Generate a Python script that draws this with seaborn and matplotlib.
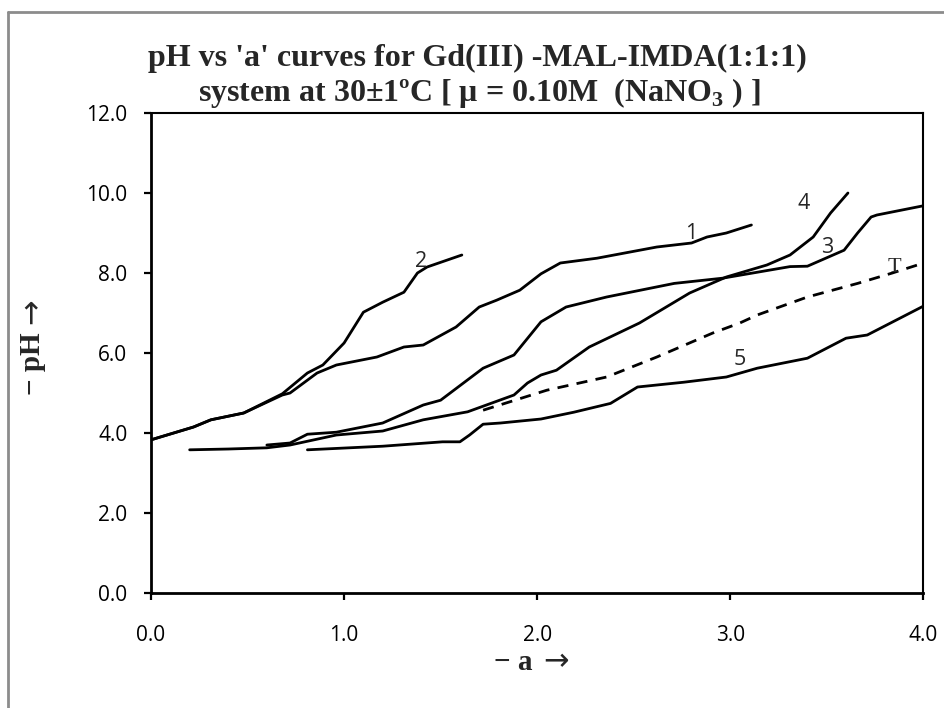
import matplotlib
matplotlib.use("Agg")
import matplotlib.pyplot as plt
from matplotlib.lines import Line2D
import numpy as np
import pandas as pd
import seaborn as sns

# ---- data (a, pH) ----
a_1 = [0.00, 0.22, 0.31, 0.48, 0.68, 0.72, 0.86, 0.96, 1.17, 1.31, 1.41, 1.58, 1.70,
       1.79, 1.91, 2.02, 2.12, 2.31, 2.62, 2.80, 2.88, 2.98, 3.11]
ph_1 = [3.83, 4.15, 4.33, 4.50, 4.95, 5.00, 5.50, 5.70, 5.90, 6.15, 6.20, 6.65, 7.15,
        7.32, 7.57, 7.98, 8.25, 8.37, 8.65, 8.75, 8.90, 9.00, 9.20]

a_2 = [0.00, 0.22, 0.31, 0.48, 0.68, 0.81, 0.89, 1.00, 1.10, 1.20, 1.31, 1.38, 1.43, 1.61]
ph_2 = [3.83, 4.15, 4.33, 4.50, 4.98, 5.50, 5.70, 6.25, 7.02, 7.27, 7.52, 8.00, 8.15, 8.45]

a_3 = [0.60, 0.72, 0.81, 0.96, 1.20, 1.41, 1.50, 1.72, 1.88, 2.02, 2.15, 2.36, 2.71,
       2.96, 3.31, 3.40, 3.59, 3.66, 3.73, 3.76, 4.00]
ph_3 = [3.70, 3.75, 3.97, 4.02, 4.25, 4.70, 4.82, 5.62, 5.95, 6.78, 7.15, 7.40, 7.74,
        7.87, 8.16, 8.17, 8.57, 9.00, 9.40, 9.45, 9.68]

a_4 = [0.20, 0.40, 0.60, 0.72, 0.96, 1.20, 1.41, 1.64, 1.88, 1.95, 2.02, 2.10, 2.27,
       2.53, 2.79, 2.98, 3.19, 3.31, 3.43, 3.52, 3.61]
ph_4 = [3.58, 3.60, 3.63, 3.70, 3.95, 4.05, 4.33, 4.53, 4.95, 5.25, 5.45, 5.57, 6.15,
        6.75, 7.50, 7.90, 8.20, 8.45, 8.90, 9.50, 10.00]

a_5 = [0.81, 1.20, 1.51, 1.60, 1.65, 1.72, 1.81, 2.02, 2.19, 2.38, 2.52, 2.76, 2.98,
       3.14, 3.40, 3.60, 3.71, 4.00]
ph_5 = [3.58, 3.67, 3.78, 3.78, 3.95, 4.22, 4.25, 4.35, 4.52, 4.74, 5.15, 5.27, 5.40,
        5.62, 5.87, 6.37, 6.45, 7.17]

a_t = [1.72, 2.05, 2.36, 2.62, 2.91, 3.05, 3.14, 3.40, 3.66, 3.84, 3.97]
ph_t = [4.57, 5.07, 5.40, 5.90, 6.50, 6.75, 6.95, 7.40, 7.74, 8.00, 8.20]

curve_names = ["1", "2", "3", "4", "5", "T"]
curve_a = [a_1, a_2, a_3, a_4, a_5, a_t]
curve_ph = [ph_1, ph_2, ph_3, ph_4, ph_5, ph_t]

# label positions beside the curves
label_text = ["1", "2", "3", "4", "5", "T"]
label_a = [2.80, 1.40, 3.50, 3.38, 3.05, 3.85]
label_ph = [9.00, 8.28, 8.65, 9.75, 5.83, 8.15]

x_ticks = [0, 1, 2, 3, 4]
y_ticks = [0, 2, 4, 6, 8, 10, 12]

rows = []
for name, xs, ys in zip(curve_names, curve_a, curve_ph):
    for i, (xv, yv) in enumerate(zip(xs, ys)):
        rows.append({"curve": name, "order": i, "a": xv, "pH": yv})
df = pd.DataFrame(rows)

sns.set_theme(style="white")
plt.rcParams["font.family"] = ["Open Sans", "DejaVu Sans"]
plt.rcParams["mathtext.fontset"] = "custom"
plt.rcParams["mathtext.rm"] = "Liberation Serif"
plt.rcParams["mathtext.bf"] = "Liberation Serif:bold"

fig = plt.figure(figsize=(9.44, 7.08), dpi=100)
ax = fig.add_axes([0.160, 0.1624, 0.818, 0.678])

for name in curve_names:
    sub = df[df["curve"] == name]
    sns.lineplot(data=sub, x="a", y="pH", ax=ax, color="black", lw=2.0,
                 sort=False, estimator=None,
                 linestyle="--" if name == "T" else "-")
ax.lines[-1].set_dashes([4, 3])

for t, xv, yv in zip(label_text, label_a, label_ph):
    if t == "T":
        ax.text(xv, yv, t, fontsize=16, family="Liberation Serif", ha="center", va="center")
    else:
        ax.text(xv, yv, t, fontsize=15.5, ha="center", va="center")

ax.set_xlim(0, 4)
ax.set_ylim(0, 12)
ax.set_xticks(x_ticks)
ax.set_yticks(y_ticks)
ax.set_xticklabels([f"{v:.1f}" for v in x_ticks])
ax.set_yticklabels([f"{v:.1f}" for v in y_ticks])
ax.tick_params(axis="both", direction="out", length=5, width=1.6, colors="black",
               labelsize=15, bottom=True, left=True)
ax.tick_params(axis="x", pad=18)
ax.tick_params(axis="y", pad=12)

for side, s in ax.spines.items():
    s.set_color("black")
    s.set_visible(True)
    s.set_linewidth(2.0 if side in ("left", "bottom") else 1.5)

ax.set_xlabel("")
ax.set_ylabel("")

# axis labels: bold serif text plus a plain arrow
lab_kw = dict(family="Liberation Serif", fontweight="bold", fontsize=21)
arr_kw = dict(family="DejaVu Sans", fontsize=22)
fig.text(533 / 944, 1 - 662 / 708, "− a", ha="right", va="center", **lab_kw)
fig.text(543 / 944, 1 - 662 / 708, "→", ha="left", va="center", **arr_kw)
fig.text(32 / 944, 1 - 364 / 708, "− pH", ha="center", va="center", rotation=90, **lab_kw)
fig.text(32 / 944, 1 - 311 / 708, "→", ha="center", va="center", rotation=90, **arr_kw)

# two-line title, centred a little left of the axes like the reference
title_kw = dict(family="Liberation Serif", fontweight="bold", fontsize=23,
                ha="center", va="baseline")
fig.text(0.506, 0.907, "pH vs 'a' curves for Gd(III) -MAL-IMDA(1:1:1)", **title_kw)
fig.text(0.508, 0.857, "system at 30±1ºC [ μ = 0.10M  (NaNO$_\\mathbf{3}$ ) ]", **title_kw)

# outer chart border (left and top only visible)
fig.add_artist(Line2D([0.009, 0.009], [0.0, 0.983], color="#8c8c8c", lw=2.0))
fig.add_artist(Line2D([0.009, 1.0], [0.983, 0.983], color="#8c8c8c", lw=2.0))

fig.savefig("out.png", dpi=100)
